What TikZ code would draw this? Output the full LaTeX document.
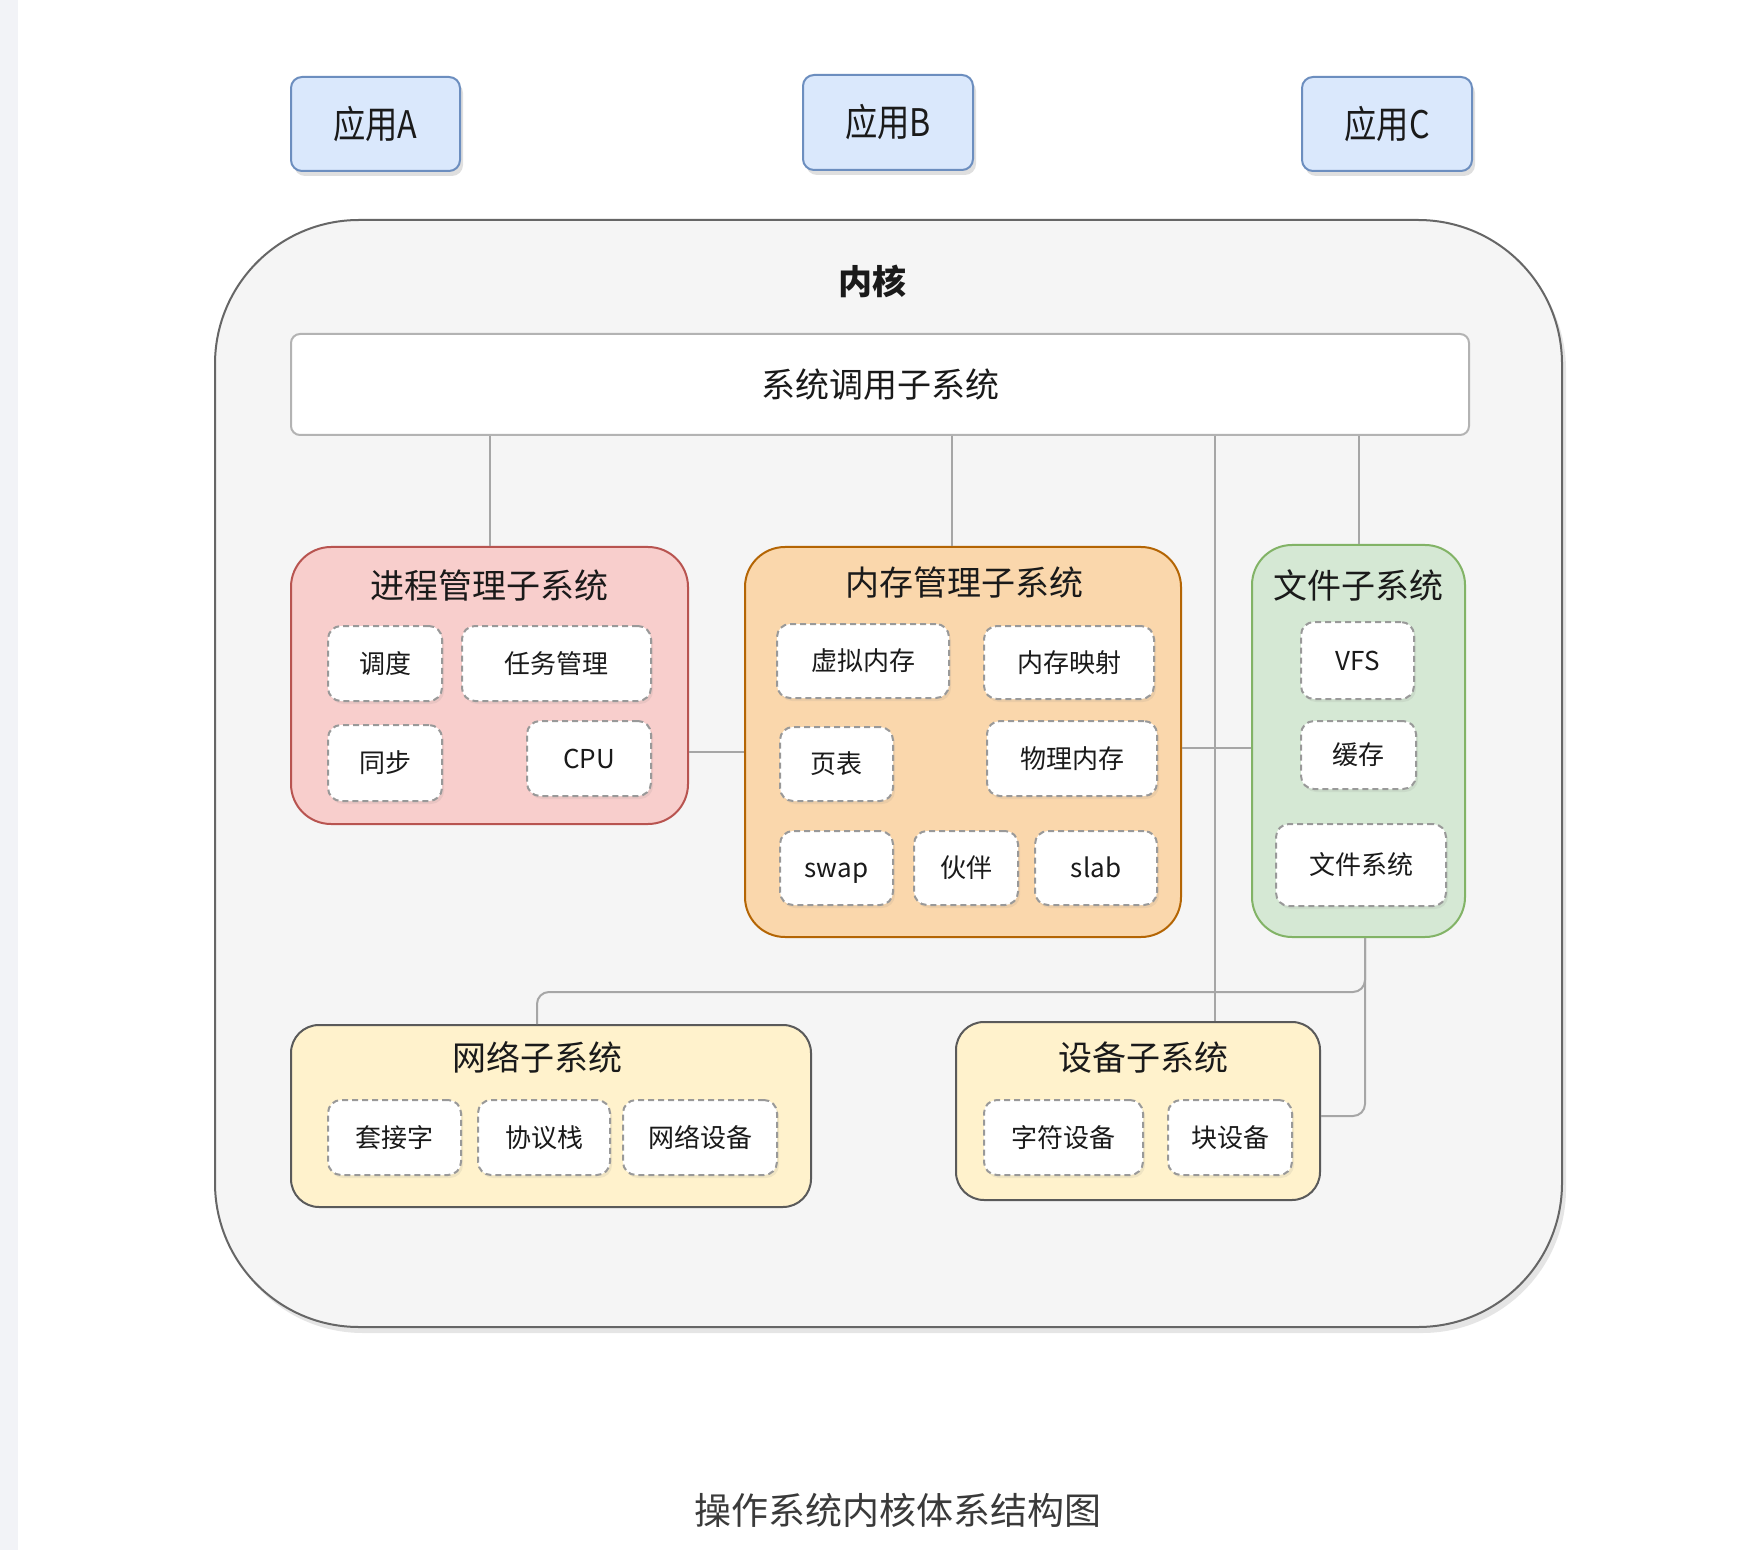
\documentclass[tikz,border=0pt]{standalone}
\usepackage{fontspec}
\usepackage{graphicx}
\setmainfont{Noto Sans CJK SC}
\usetikzlibrary{fit,shadows}
\definecolor{appfill}{HTML}{DAE8FC}
\definecolor{appdraw}{HTML}{6C8EBF}
\definecolor{kfill}{HTML}{F5F5F5}
\definecolor{kdraw}{HTML}{666666}
\definecolor{sysdraw}{HTML}{B3B3B3}
\definecolor{pfill}{HTML}{F8CECC}
\definecolor{pdraw}{HTML}{B85450}
\definecolor{mfill}{HTML}{FAD7AC}
\definecolor{mdraw}{HTML}{B46504}
\definecolor{ffill}{HTML}{D5E8D4}
\definecolor{fdraw}{HTML}{82B366}
\definecolor{yfill}{HTML}{FFF2CC}
\definecolor{ydraw}{HTML}{5A5A5A}
\definecolor{dashgray}{HTML}{999999}
\definecolor{linegray}{HTML}{A6A6A6}
\definecolor{strip}{HTML}{F2F3F7}
\definecolor{captext}{HTML}{3A3A3A}
\definecolor{txt}{HTML}{1A1A1A}
\begin{document}
\begin{tikzpicture}[x=0.5pt,y=-0.5pt,
  box/.style={rectangle, inner sep=0pt, line width=1pt},
  lab/.style={inner sep=0pt, text=txt},
  app/.style={box, fill=appfill, draw=appdraw, rounded corners=5.5pt,
    drop shadow={opacity=0.25, shadow xshift=1.5pt, shadow yshift=-2.5pt}},
  applab/.style={lab, font=\fontsize{19}{22}\selectfont, text height=16.7pt, text depth=2.3pt},
  subsys/.style={box, rounded corners=20pt},
  lowsys/.style={box, fill=yfill, draw=ydraw, rounded corners=14pt},
  inner/.style={box, fill=white, draw=dashgray, dash pattern=on 3pt off 2pt,
    rounded corners=6.5pt,
    drop shadow={opacity=0.12, shadow xshift=1pt, shadow yshift=-1.5pt}},
  innerlab/.style={lab, font=\fontsize{13}{15}\selectfont, text height=11.4pt, text depth=1.6pt},
  title/.style={lab, font=\fontsize{17}{20}\selectfont, text height=15pt, text depth=2pt},
  conn/.style={draw=linegray, line width=1pt}
]
\fill[white] (0,0) rectangle (1754,1550);
\useasboundingbox (0,0) rectangle (1754,1550);
\fill[strip] (0,0) rectangle (18,1550);

% applications
\node[app, fit={(291,77) (460,171)}, label={[applab]center:\scalebox{0.85}[1]{应用\textit{A}}}] (appA) {};
\node[app, fit={(803,75) (973,170)}, label={[applab]center:\scalebox{0.85}[1]{应用B}}] (appB) {};
\node[app, fit={(1302,77) (1472,171)}, label={[applab]center:\scalebox{0.85}[1]{应用\textit{C}}}] (appC) {};

% kernel
\node[box, fill=kfill, draw=kdraw, rounded corners=72pt,
  drop shadow={opacity=0.2, shadow xshift=2pt, shadow yshift=-3pt},
  fit={(215,220) (1562,1327)}] (kernel) {};
\node[title, font=\fontsize{17}{20}\selectfont\bfseries] (ktitle) at (872,282) {内核};

% system call
\node[box, fill=white, draw=sysdraw, rounded corners=4.5pt,
  fit={(291,334) (1469,435)}, label={[title]center:系统调用子系统}] (sys) {};

% process management
\node[subsys, fill=pfill, draw=pdraw, fit={(291,547) (688,824)}] (proc) {};
\node[title] (ptitle) at (489,585) {进程管理子系统};
\node[inner, fit={(328,626) (442,701)}, label={[innerlab]center:调度}] (sched) {};
\node[inner, fit={(462,626) (651,701)}, label={[innerlab]center:任务管理}] (task) {};
\node[inner, fit={(328,725) (442,801)}, label={[innerlab]center:同步}] (sync) {};
\node[inner, fit={(527,721) (651,796)}, label={[innerlab]center:CPU}] (cpu) {};

% memory management
\node[subsys, fill=mfill, draw=mdraw, fit={(745,547) (1181,937)}] (mem) {};
\node[title] (mtitle) at (964,583) {内存管理子系统};
\node[inner, fit={(777,624) (949,698)}, label={[innerlab]center:虚拟内存}] (vmem) {};
\node[inner, fit={(984,626) (1154,699)}, label={[innerlab]center:内存映射}] (mmap) {};
\node[inner, fit={(780,727) (893,801)}, label={[innerlab]center:页表}] (ptab) {};
\node[inner, fit={(987,721) (1157,796)}, label={[innerlab]center:物理内存}] (pmem) {};
\node[inner, fit={(780,831) (893,905)}, label={[innerlab]center:swap}] (swap) {};
\node[inner, fit={(914,831) (1018,905)}, label={[innerlab]center:伙伴}] (buddy) {};
\node[inner, fit={(1035,831) (1157,905)}, label={[innerlab]center:slab}] (slab) {};

% file subsystem
\node[subsys, fill=ffill, draw=fdraw, fit={(1252,545) (1465,937)}] (file) {};
\node[title] (ftitle) at (1358,585) {文件子系统};
\node[inner, fit={(1301,622) (1414,699)}, label={[innerlab]center:VFS}] (vfs) {};
\node[inner, fit={(1301,721) (1416,789)}, label={[innerlab]center:缓存}] (cache) {};
\node[inner, fit={(1276,824) (1446,906)}, label={[innerlab]center:文件系统}] (fs) {};

% network subsystem
\node[lowsys, fit={(291,1025) (811,1207)}] (net) {};
\node[title] (ntitle) at (537,1057) {网络子系统};
\node[inner, fit={(328,1100) (461,1175)}, label={[innerlab]center:套接字}] (sock) {};
\node[inner, fit={(478,1100) (610,1175)}, label={[innerlab]center:协议栈}] (proto) {};
\node[inner, fit={(623,1100) (777,1175)}, label={[innerlab]center:网络设备}] (netdev) {};

% device subsystem
\node[lowsys, fit={(956,1022) (1320,1200)}] (dev) {};
\node[title] (dtitle) at (1143,1057) {设备子系统};
\node[inner, fit={(984,1100) (1143,1175)}, label={[innerlab]center:字符设备}] (chardev) {};
\node[inner, fit={(1168,1100) (1292,1175)}, label={[innerlab]center:块设备}] (blkdev) {};

% connector helper coordinates
\coordinate (xm) at (952,0);
\coordinate (xd) at (1215,0);
\coordinate (xf) at (1365,0);
\coordinate (xn) at (537,0);
\coordinate (ypm) at (0,752);
\coordinate (ymf) at (0,748);
\coordinate (yfn) at (0,992);
\coordinate (yfd) at (0,1116);

% connectors
\draw[conn] (sys.south -| proc.north) -- (proc.north);
\draw[conn] (sys.south -| xm) -- (mem.north -| xm);
\draw[conn] (sys.south -| file.north) -- (file.north);
\draw[conn] (sys.south -| xd) -- (dev.north -| xd);
\draw[conn] (proc.east |- ypm) -- (mem.west |- ypm);
\draw[conn] (mem.east |- ymf) -- (file.west |- ymf);
\draw[conn, rounded corners=6pt] (file.south -| xf) -- (xf |- yfn) -- (xn |- yfn) -- (net.north -| xn);
\draw[conn, rounded corners=6pt] (file.south -| xf) -- (xf |- yfd) -- (dev.east |- yfd);

% caption
\node[inner sep=0pt, text=captext, font=\fontsize{18.5}{22}\selectfont] (caption) at (898,1510) {操作系统内核体系结构图};
\end{tikzpicture}
\end{document}
